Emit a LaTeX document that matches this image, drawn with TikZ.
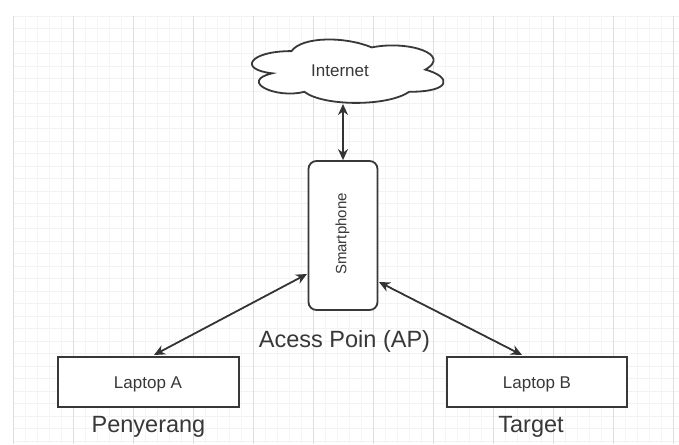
\documentclass[tikz,border=0pt]{standalone}
\usepackage{fontspec}
\setmainfont{Liberation Sans}
\usetikzlibrary{arrows.meta,calc}
\begin{document}
\begin{tikzpicture}[x=1pt,y=-1pt,
  box/.style={draw=black!78,line width=1.8pt,fill=white,text=black!78},
  conn/.style={draw=black!80,line width=1.8pt,{Stealth[length=11pt,width=10pt]}-{Stealth[length=11pt,width=10pt]}},
  lbl/.style={text=black!78,font=\fontsize{23.5}{26}\selectfont,anchor=base,inner sep=0pt},
  small/.style={text=black!78,font=\fontsize{17}{19}\selectfont}]
\useasboundingbox (0,0) rectangle (679,444);
\fill[white] (0,0) rectangle (679,444);
% grid
\foreach \y in {16,28.5,...,444} \draw[black!5,line width=0.8pt] (13,\y) -- (679,\y);
\foreach \x in {25,37,...,679} \draw[black!4,line width=0.8pt] (\x,16) -- (\x,444);
\foreach \x in {13,73,...,679} \draw[black!13,line width=1pt] (\x,16) -- (\x,444);
% cloud (draw.io cloud outline)
\begin{scope}[shift={(238,32.6)},x=214pt,y=-74pt]
\draw[box] (0.25,0.25)
  .. controls (0.05,0.25) and (0,0.5) .. (0.16,0.55)
  .. controls (0,0.66) and (0.18,0.9) .. (0.31,0.8)
  .. controls (0.4,1) and (0.7,1) .. (0.8,0.8)
  .. controls (1,0.8) and (1,0.6) .. (0.875,0.5)
  .. controls (1,0.3) and (0.8,0.1) .. (0.625,0.2)
  .. controls (0.5,0.05) and (0.3,0.05) .. (0.25,0.25) -- cycle;
\end{scope}
\node[small,anchor=base,inner sep=0pt] (net) at (340,76) {Internet};
\coordinate (netb) at (343,104);
% nodes
\node[box,rounded corners=8pt,minimum width=69pt,minimum height=149pt,inner sep=0pt] (sp) at (343,235.5) {};
\node[text=black!78,font=\fontsize{15}{17}\selectfont,rotate=90] (spt) at (342.5,234) {Smartphone};
\node[lbl] (ap) at (344.5,347) {Acess Poin (AP)};
\node[box,minimum width=181pt,minimum height=50pt,inner sep=0pt] (la) at (148.5,382) {};
\node[small,anchor=base,inner sep=0pt] (lat) at (148,388) {Laptop A};
\node[box,minimum width=180pt,minimum height=50pt,inner sep=0pt] (lb) at (537,382) {};
\node[small,anchor=base,inner sep=0pt] (lbt) at (537,388) {Laptop B};
\node[lbl] (pe) at (148.5,432) {Penyerang};
\node[lbl] (tg) at (531,432) {Target};
% connector end points
\coordinate (spl) at (307,274);
\coordinate (spr) at (379,282);
\coordinate (lan) at (154,355);
\coordinate (lbn) at (522,355);
% connectors
\draw[conn] (netb) -- (sp.north);
\draw[conn] (lan) -- (spl);
\draw[conn] (spr) -- (lbn);
\end{tikzpicture}
\end{document}
